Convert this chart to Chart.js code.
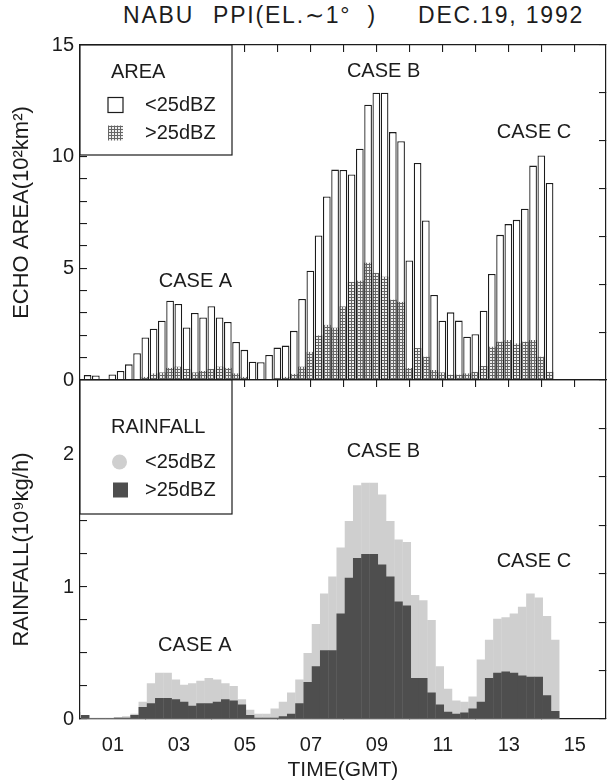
<!DOCTYPE html>
<html>
<head>
<meta charset="utf-8">
<script src="https://cdn.jsdelivr.net/npm/chart.js@4.4.1/dist/chart.umd.min.js"></script>
<style>
  body { margin: 0; background: #fff; width: 607px; height: 783px; overflow: hidden; position: relative;
         font-family: "Liberation Sans", Arial, sans-serif; color: #1c1c1c; }
  canvas { position: absolute; left: 0; top: 0; }
  #title span { position: absolute; top: 2px; font-size: 23px; white-space: pre; letter-spacing: 1.8px; }
</style>
</head>
<body>
<div id="title">
  <span style="left:123px">NABU</span>
  <span style="left:213px">PPI(EL.∼1°  )</span>
  <span style="left:418px">DEC.19, 1992</span>
</div>
<canvas id="areaChart" width="607" height="783"></canvas>
<canvas id="rainChart" width="607" height="783"></canvas>
<script>
// Echo area (10^2 km^2), one value per 15-minute PPI scan
const areaTotal = [0.22, 0.20, 0.05, 0.25, 0.40, 0.70, 1.20, 1.90, 2.30, 2.65,
                   3.55, 3.40, 2.35, 3.00, 2.80, 3.30, 2.80, 2.60, 1.70, 1.35,
                   0.82, 0.80, 1.12, 1.45, 1.54, 2.20, 3.63, 4.89, 6.47, 8.22,
                   9.42, 9.40, 9.20, 10.36, 12.33, 12.86, 12.86, 11.10, 10.69, 5.35,
                   9.72, 7.14, 3.81, 2.65, 3.03, 2.66, 1.94, 2.05, 3.10, 4.75,
                   6.50, 6.98, 7.17, 7.67, 9.60, 10.05, 8.82];
const areaStrong = [0, 0, 0, 0, 0, 0, 0.05, 0.15, 0.30, 0.35,
                    0.55, 0.60, 0.50, 0.35, 0.40, 0.50, 0.60, 0.55, 0.30, 0.15,
                    0.05, 0.05, 0.05, 0.10, 0.15, 0.28, 0.60, 1.27, 2.00, 2.47,
                    2.35, 3.30, 4.40, 4.45, 5.26, 4.80, 4.63, 3.60, 3.50, 0.54,
                    1.43, 1.05, 0.45, 0.35, 0.25, 0.25, 0.30, 0.37, 0.63, 1.50,
                    1.72, 1.79, 1.64, 1.72, 1.79, 1.05, 0.37];

// Rainfall (10^9 kg/h), total and the part from echoes above 25 dBZ
const rainTotal = [0.03, 0.01, 0.01, 0.01, 0.015, 0.02, 0.04, 0.13, 0.27, 0.35,
                   0.35, 0.30, 0.26, 0.27, 0.29, 0.31, 0.30, 0.27, 0.25, 0.15,
                   0.07, 0.04, 0.04, 0.08, 0.13, 0.20, 0.30, 0.50, 0.72, 0.95,
                   1.08, 1.30, 1.50, 1.77, 1.79, 1.79, 1.70, 1.50, 1.36, 1.34,
                   0.94, 0.90, 0.75, 0.40, 0.23, 0.14, 0.13, 0.17, 0.45, 0.60,
                   0.76, 0.77, 0.80, 0.85, 0.95, 0.92, 0.78, 0.60];
const rainStrong = [0.03, 0.005, 0.005, 0.005, 0.01, 0.01, 0.03, 0.09, 0.12, 0.16,
                    0.16, 0.15, 0.13, 0.10, 0.12, 0.12, 0.13, 0.15, 0.14, 0.11,
                    0.03, 0.01, 0.01, 0.01, 0.02, 0.04, 0.12, 0.28, 0.40, 0.52,
                    0.52, 0.80, 1.07, 1.22, 1.25, 1.25, 1.17, 1.08, 0.89, 0.86,
                    0.31, 0.31, 0.20, 0.11, 0.055, 0.04, 0.05, 0.08, 0.13, 0.31,
                    0.35, 0.36, 0.35, 0.33, 0.32, 0.32, 0.18, 0.06];

// time of the first scan (hours GMT) and scan interval
const areaStart = 0.23;
const rainStart = 0.155;
const scanStep = 0.25;

const timeTicks = [1, 3, 5, 7, 9, 11, 13, 15];
const timeLabels = ['01', '03', '05', '07', '09', '11', '13', '15'];
const areaLabels = [0, 5, 10, 15];
const rainLabels = [0, 1, 2];
const caseNames = ['CASE A', 'CASE B', 'CASE C'];
const areaCaseAt = [[3.5, 4.4], [9.2, 13.8], [13.76, 11.1]];
const rainCaseAt = [[3.48, 0.56], [9.2, 2.03], [13.76, 1.19]];

const ink = '#1c1c1c';
const font = '"Liberation Sans", Arial, sans-serif';
const xMax = 15.94;

function steps(from, to, step) {
    const out = [];
    for (let v = from; v <= to + 1e-9; v += step) out.push({ value: +v.toFixed(4) });
    return out;
}

function points(values, start) {
    return values.map((v, i) => ({ x: start + i * scanStep, y: v }));
}

// grey cross-hatched stipple used for the >25dBZ area
function stipplePattern() {
    const c = document.createElement('canvas');
    c.width = 3; c.height = 3;
    const g = c.getContext('2d');
    g.fillStyle = '#eeeeee';
    g.fillRect(0, 0, 3, 3);
    g.fillStyle = '#666666';
    g.fillRect(0, 0, 3, 1);
    g.fillRect(0, 0, 1, 3);
    return g.createPattern(c, 'repeat');
}
const stipple = stipplePattern();

// frame axis with inward tick marks and no labels
function frameAxis(position, min, max, ticks, size) {
    return {
        type: 'linear', position: position, min: min, max: max, offset: false,
        ticks: { display: false, autoSkip: false },
        grid: { drawOnChartArea: false, tickLength: -7, color: ink, lineWidth: 1.1, offset: false },
        border: { color: ink, width: 1.2 },
        afterBuildTicks: s => { s.ticks = ticks; },
        afterFit: s => { if (s.isHorizontal()) s.height = size; else s.width = size; }
    };
}

// CASE A/B/C text, placed in data coordinates
const caseText = {
    id: 'caseText',
    afterDatasetsDraw(chart, args, opts) {
        const { ctx, scales: { x, y } } = chart;
        ctx.save();
        ctx.font = '20px ' + font;
        ctx.fillStyle = ink;
        ctx.textAlign = 'center';
        ctx.textBaseline = 'middle';
        opts.spots.forEach((p, i) => {
            ctx.fillText(caseNames[i], x.getPixelForValue(p[0]), y.getPixelForValue(p[1]));
        });
        ctx.restore();
    }
};

// boxed legend sitting in the upper left corner of each panel
const boxLegend = {
    id: 'boxLegend',
    afterDatasetsDraw(chart, args, o) {
        const { ctx, chartArea: a } = chart;
        ctx.save();
        ctx.fillStyle = '#fff';
        ctx.fillRect(a.left, a.top, o.width, o.height);
        ctx.strokeStyle = ink;
        ctx.lineWidth = 1.2;
        ctx.strokeRect(a.left, a.top, o.width, o.height);
        ctx.font = '20px ' + font;
        ctx.fillStyle = ink;
        ctx.textBaseline = 'middle';
        ctx.fillText(o.heading, a.left + 31, a.top + o.rows[0]);
        o.items.forEach((it, i) => {
            const cy = a.top + o.rows[i + 1];
            const sx = a.left + it.dx;
            ctx.fillStyle = it.fill;
            if (it.round) {
                ctx.beginPath();
                ctx.arc(sx + 7.5, cy, 7.5, 0, Math.PI * 2);
                ctx.fill();
            } else {
                ctx.fillRect(sx, cy - 7.5, 15, 15);
            }
            if (it.stroke) {
                ctx.strokeStyle = ink;
                ctx.lineWidth = 1.2;
                ctx.strokeRect(sx, cy - 7.5, 15, 15);
            }
            ctx.fillStyle = ink;
            ctx.fillText(it.text, a.left + 65, cy);
        });
        ctx.restore();
    }
};

Chart.defaults.font.family = font;
Chart.defaults.font.size = 20;
Chart.defaults.color = ink;

// ---- upper panel: echo area ----
new Chart(document.getElementById('areaChart'), {
    type: 'bar',
    data: {
        datasets: [{
            label: '>25dBZ',
            data: points(areaStrong, areaStart),
            backgroundColor: stipple,
            borderColor: ink,
            borderWidth: { left: 1.2, right: 1.2, top: 0, bottom: 0 },
            grouped: false, order: 1,
            barPercentage: 0.93, categoryPercentage: 1
        }, {
            label: '<25dBZ',
            data: points(areaTotal, areaStart),
            backgroundColor: '#fff',
            borderColor: ink,
            borderWidth: 1.3,
            grouped: false, order: 2,
            barPercentage: 0.93, categoryPercentage: 1
        }]
    },
    options: {
        responsive: false, animation: false, events: [],
        layout: { padding: { top: 45, bottom: 403, left: 0, right: 0 } },
        plugins: {
            legend: { display: false }, tooltip: { enabled: false },
            caseText: { spots: areaCaseAt },
            boxLegend: {
                width: 152, height: 110, heading: 'AREA', rows: [27, 60, 88],
                items: [
                    { text: '<25dBZ', fill: '#fff', stroke: true, dx: 28 },
                    { text: '>25dBZ', fill: stipple, dx: 28 }
                ]
            }
        },
        scales: {
            x: {
                type: 'linear', position: 'bottom', min: 0, max: xMax, offset: false,
                ticks: { display: false }, grid: { display: false },
                border: { color: ink, width: 1.2 },
                afterFit: s => { s.height = 0; }
            },
            xTop: frameAxis('top', 0, xMax, steps(0, 15, 1), 0),
            y: {
                min: 0, max: 15,
                ticks: { autoSkip: false, padding: 13, callback: v => areaLabels.includes(v) ? String(v) : '' },
                grid: { drawOnChartArea: false, tickLength: -7, color: ink, lineWidth: 1.1 },
                border: { color: ink, width: 1.2 },
                title: { display: true, text: 'ECHO AREA(10²km²)', font: { size: 22 }, padding: { top: 9, bottom: 0 } },
                afterBuildTicks: s => { s.ticks = steps(0, 15, 1); },
                afterFit: s => { s.width = 80; }
            },
            y2: frameAxis('right', 0, 7, steps(0, 7, 1), 1)
        }
    },
    plugins: [caseText, boxLegend]
});

// ---- lower panel: rainfall ----
new Chart(document.getElementById('rainChart'), {
    type: 'bar',
    data: {
        datasets: [{
            label: '>25dBZ',
            data: points(rainStrong, rainStart),
            backgroundColor: '#4e4e4e',
            borderWidth: 0,
            grouped: false, order: 1,
            barPercentage: 1.04, categoryPercentage: 1
        }, {
            label: '<25dBZ',
            data: points(rainTotal, rainStart),
            backgroundColor: '#cfcfcf',
            borderWidth: 0,
            grouped: false, order: 2,
            barPercentage: 1.04, categoryPercentage: 1
        }]
    },
    options: {
        responsive: false, animation: false, events: [],
        layout: { padding: { top: 380, bottom: 0, left: 0, right: 0 } },
        plugins: {
            legend: { display: false }, tooltip: { enabled: false },
            caseText: { spots: rainCaseAt },
            boxLegend: {
                width: 152, height: 134, heading: 'RAINFALL', rows: [47, 82, 110],
                items: [
                    { text: '<25dBZ', fill: '#cfcfcf', round: true, dx: 32 },
                    { text: '>25dBZ', fill: '#4e4e4e', dx: 33 }
                ]
            }
        },
        scales: {
            x: {
                type: 'linear', position: 'bottom', min: 0, max: xMax, offset: false,
                ticks: { autoSkip: false, padding: 21, maxRotation: 0, callback: (v, i) => timeLabels[i] },
                grid: { drawOnChartArea: false, tickLength: -7, color: ink, lineWidth: 1.1 },
                border: { color: ink, width: 1.2 },
                title: { display: true, text: 'TIME(GMT)', font: { size: 21 }, padding: { top: 0, bottom: 0 } },
                afterBuildTicks: s => { s.ticks = timeTicks.map(v => ({ value: v })); },
                afterFit: s => { s.height = 64; }
            },
            xTop: frameAxis('top', 0, xMax, steps(0, 15, 1), 0),
            y: {
                min: 0, max: 2.568,
                ticks: { autoSkip: false, padding: 13, callback: v => rainLabels.includes(v) ? String(v) : '' },
                grid: { drawOnChartArea: false, tickLength: -7, color: ink, lineWidth: 1.1 },
                border: { color: ink, width: 1.2 },
                title: { display: true, text: 'RAINFALL(10⁹kg/h)', font: { size: 22 }, padding: { top: 9, bottom: 0 } },
                afterBuildTicks: s => { s.ticks = steps(0, 2.5, 0.25); },
                afterFit: s => { s.width = 80; }
            },
            y2: frameAxis('right', 0, 7, steps(0, 7, 1), 1)
        }
    },
    plugins: [caseText, boxLegend]
});
</script>
</body>
</html>
